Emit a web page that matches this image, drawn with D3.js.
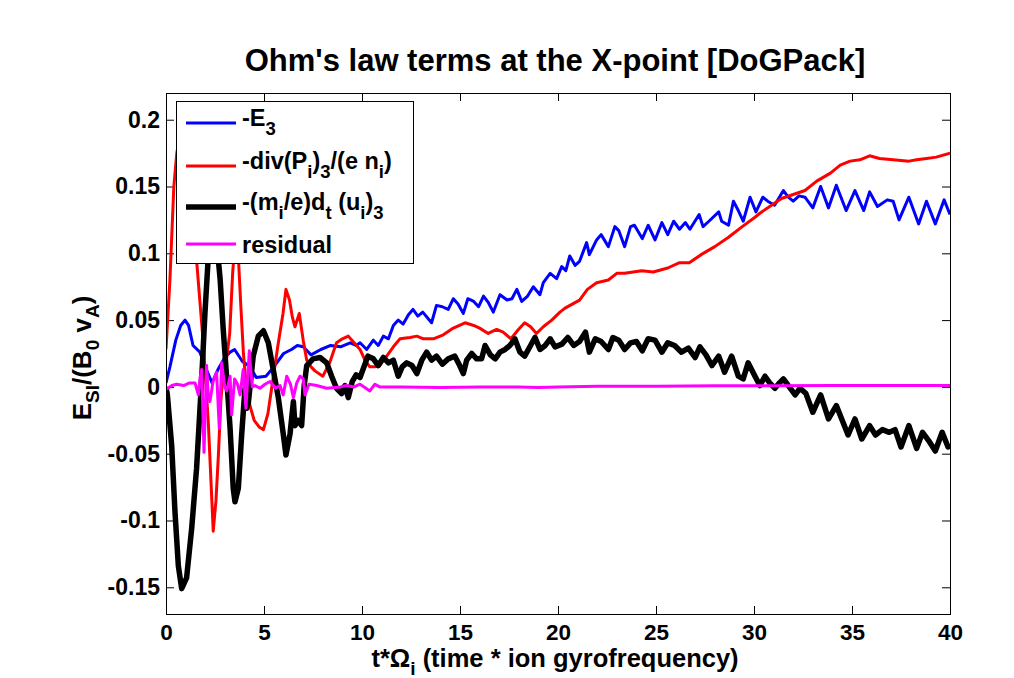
<!DOCTYPE html>
<html lang="en">

<head>
    <meta charset="UTF-8">
    <title>Ohm's law terms at the X-point</title>
    <script src="https://cdn.jsdelivr.net/npm/d3@7"></script>

    <style>
        body {
            margin: 0;
            background: #fff;
        }

        text {
            font-family: 'Liberation Sans', Arial, Helvetica, sans-serif;
            font-weight: bold;
            fill: #000;
        }

        .tick text {
            font-size: 23px;
        }

        .xaxis .tick text {
            font-size: 22.5px;
        }

        .tick line {
            stroke: #000;
        }
    </style>
</head>

<body>
    <script>

        // -E3 (blue)
        var tE3 = [0, 0.2, 0.5, 0.75, 0.97, 1.15, 1.38, 1.73, 2.0, 2.35, 2.65, 3.0, 3.27, 3.5, 3.9, 4.3, 4.6, 5.1, 5.5, 6.0,
            6.4, 6.7, 7.0, 7.4, 7.9, 8.4, 8.9, 9.4, 9.7, 9.9, 10.24, 10.58, 10.83, 11.09, 11.35, 11.6, 11.85, 12.1, 12.37, 12.6,
            12.85, 13.1, 13.55, 13.8, 14.1, 14.4, 14.66, 14.9, 15.17, 15.4, 15.7, 15.95, 16.2, 16.45, 16.7, 17.04, 17.4, 17.65, 17.9, 18.15,
            18.45, 18.74, 19.08, 19.25, 19.6, 19.93, 20.19, 20.4, 20.6, 20.87, 21.1, 21.46, 21.6, 21.97, 22.2, 22.57, 22.9, 23.1, 23.4, 23.7,
            23.9, 24.3, 24.6, 24.95, 25.3, 25.6, 25.9, 26.2, 26.5, 26.73, 27.2, 27.4, 27.7, 28.2, 28.35, 28.7, 28.95, 29.2, 29.45, 29.8,
            30.1, 30.45, 30.7, 31.05, 31.5, 31.75, 32.0, 32.3, 32.6, 33.0, 33.4, 33.8, 34.2, 34.7, 35.15, 35.6, 35.9, 36.3, 36.8, 37.1,
            37.4, 37.9, 38.4, 38.8, 39.25, 39.7, 40];
        var vE3 = [0.003, 0.015, 0.035, 0.046, 0.050, 0.046, 0.031, 0.026, 0.015, 0.003, 0.013, 0.022, 0.026, 0.028, 0.019, 0.015, 0.007, 0.008, 0.015, 0.025,
            0.028, 0.031, 0.030, 0.024, 0.028, 0.031, 0.030, 0.033, 0.031, 0.033, 0.028, 0.035, 0.031, 0.038, 0.036, 0.046, 0.050, 0.047, 0.054, 0.058,
            0.053, 0.056, 0.048, 0.061, 0.060, 0.058, 0.066, 0.062, 0.055, 0.066, 0.064, 0.060, 0.068, 0.063, 0.056, 0.069, 0.065, 0.066, 0.073, 0.064,
            0.068, 0.075, 0.069, 0.078, 0.085, 0.081, 0.090, 0.087, 0.098, 0.091, 0.094, 0.108, 0.099, 0.110, 0.114, 0.105, 0.120, 0.117, 0.105, 0.120,
            0.121, 0.111, 0.121, 0.110, 0.123, 0.114, 0.124, 0.118, 0.123, 0.118, 0.129, 0.120, 0.124, 0.131, 0.124, 0.121, 0.139, 0.132, 0.124, 0.142,
            0.131, 0.142, 0.139, 0.136, 0.147, 0.142, 0.139, 0.143, 0.142, 0.134, 0.150, 0.134, 0.151, 0.132, 0.147, 0.132, 0.146, 0.135, 0.140, 0.139,
            0.125, 0.142, 0.122, 0.139, 0.122, 0.140, 0.129];

        // -div(Pi)3/(e ni) (red)
        var tDivP = [0, 0.2, 0.4, 0.55, 0.8, 1.1, 1.35, 1.57, 1.9, 2.16, 2.41, 2.55, 2.67, 2.8, 2.95, 3.1, 3.25, 3.4, 3.55, 3.7,
            3.82, 3.95, 4.1, 4.3, 4.5, 4.75, 4.97, 5.2, 5.45, 5.7, 5.97, 6.12, 6.3, 6.45, 6.58, 6.8, 7.0, 7.18, 7.4, 7.6,
            8.0, 8.35, 8.7, 9.0, 9.3, 9.6, 9.9, 10.15, 10.4, 10.66, 10.9, 11.26, 11.6, 11.94, 12.45, 12.8, 13.13, 13.64, 14.15, 14.66,
            15.26, 15.7, 16.0, 16.44, 16.87, 17.2, 17.6, 17.98, 18.3, 18.6, 18.9, 19.25, 19.68, 20.1, 20.36, 21.1, 21.5, 21.97, 22.57, 23.0,
            23.4, 24.27, 24.86, 25.6, 26.2, 26.7, 27.3, 28.0, 28.7, 29.4, 30.05, 30.3, 30.8, 31.4, 32.0, 32.6, 33.2, 33.9, 34.4, 34.9,
            35.4, 35.9, 36.4, 37.1, 37.9, 38.3, 38.8, 39.3, 40];
        var vDivP = [0.028, 0.080, 0.150, 0.175, 0.195, 0.185, 0.140, 0.093, 0.033, -0.027, -0.108, -0.085, -0.052, -0.010, 0.015, 0.022, 0.040, 0.085, 0.115, 0.095,
            0.060, 0.025, 0.000, -0.015, -0.025, -0.030, -0.032, -0.020, 0.005, 0.030, 0.055, 0.073, 0.065, 0.052, 0.045, 0.055, 0.035, 0.020, 0.015, 0.012,
            0.008, 0.018, 0.033, 0.036, 0.038, 0.033, 0.028, 0.020, 0.015, 0.015, 0.016, 0.023, 0.030, 0.036, 0.037, 0.038, 0.036, 0.036, 0.039, 0.044,
            0.048, 0.046, 0.044, 0.040, 0.043, 0.041, 0.036, 0.043, 0.048, 0.045, 0.040, 0.045, 0.050, 0.056, 0.059, 0.065, 0.073, 0.078, 0.080, 0.085,
            0.085, 0.087, 0.086, 0.089, 0.093, 0.093, 0.099, 0.105, 0.112, 0.120, 0.127, 0.130, 0.135, 0.141, 0.144, 0.147, 0.154, 0.160, 0.166, 0.169,
            0.170, 0.173, 0.171, 0.170, 0.169, 0.170, 0.171, 0.172, 0.175];

        // -(mi/e)dt(ui)3 (black)
        var tInert = [0, 0.07, 0.29, 0.46, 0.63, 0.8, 1.05, 1.31, 1.56, 1.82, 1.99, 2.16, 2.45, 2.76, 2.92, 3.1, 3.27, 3.43, 3.52, 3.69,
            3.86, 4.03, 4.12, 4.2, 4.45, 4.71, 4.97, 5.22, 5.47, 5.73, 5.98, 6.12, 6.33, 6.5, 6.58, 6.75, 6.92, 7.05, 7.18, 7.5,
            7.86, 8.2, 8.45, 8.7, 8.96, 9.13, 9.3, 9.5, 9.7, 9.9, 10.3, 10.58, 10.83, 11.09, 11.35, 11.6, 11.85, 12.05, 12.28, 12.55,
            12.8, 13.05, 13.3, 13.55, 13.8, 14.1, 14.4, 14.74, 14.95, 15.17, 15.34, 15.6, 15.85, 16.1, 16.28, 16.55, 16.8, 17.04, 17.3, 17.55,
            17.8, 18.06, 18.3, 18.6, 18.83, 19.08, 19.35, 19.6, 19.85, 20.2, 20.5, 20.8, 21.1, 21.4, 21.6, 21.9, 22.2, 22.57, 22.8, 23.1,
            23.4, 23.7, 24.0, 24.3, 24.6, 24.95, 25.3, 25.6, 25.95, 26.3, 26.65, 27.0, 27.24, 27.55, 27.85, 28.2, 28.5, 28.86, 29.2, 29.45,
            29.7, 30.05, 30.3, 30.56, 30.8, 31.07, 31.3, 31.5, 31.8, 32.1, 32.35, 32.65, 33.0, 33.4, 33.8, 34.2, 34.5, 34.8, 35.15, 35.5,
            35.9, 36.2, 36.55, 36.9, 37.2, 37.5, 37.9, 38.3, 38.6, 38.9, 39.25, 39.6, 39.9, 40];
        var vInert = [0.000, -0.006, -0.044, -0.094, -0.134, -0.151, -0.143, -0.106, -0.061, 0.006, 0.056, 0.098, 0.130, 0.081, 0.043, 0.006, -0.031, -0.076, -0.086, -0.076,
            -0.036, -0.001, -0.016, -0.012, 0.023, 0.038, 0.042, 0.033, 0.013, -0.008, -0.035, -0.051, -0.035, -0.011, -0.029, -0.025, -0.029, 0.001, 0.016, 0.021,
            0.022, 0.018, 0.008, -0.001, -0.005, 0.001, -0.008, 0.004, 0.009, 0.007, 0.023, 0.021, 0.016, 0.022, 0.018, 0.020, 0.008, 0.015, 0.018, 0.016,
            0.010, 0.020, 0.026, 0.020, 0.023, 0.017, 0.021, 0.023, 0.017, 0.010, 0.020, 0.025, 0.021, 0.021, 0.031, 0.024, 0.021, 0.026, 0.028, 0.031,
            0.036, 0.026, 0.023, 0.031, 0.037, 0.028, 0.031, 0.036, 0.030, 0.032, 0.037, 0.031, 0.034, 0.041, 0.026, 0.036, 0.034, 0.028, 0.037, 0.035,
            0.028, 0.033, 0.034, 0.027, 0.036, 0.035, 0.026, 0.033, 0.031, 0.026, 0.029, 0.022, 0.030, 0.024, 0.016, 0.023, 0.011, 0.023, 0.008, 0.006,
            0.018, 0.008, 0.001, 0.008, 0.003, -0.001, 0.003, 0.006, 0.000, -0.006, -0.001, -0.005, -0.019, -0.006, -0.024, -0.014, -0.025, -0.036, -0.024, -0.039,
            -0.029, -0.036, -0.032, -0.034, -0.032, -0.045, -0.029, -0.046, -0.034, -0.040, -0.048, -0.034, -0.045, -0.043];

        // residual (magenta)
        var tResid = [0, 0.3, 0.54, 0.9, 1.2, 1.48, 1.65, 1.75, 1.82, 1.94, 2.07, 2.15, 2.24, 2.4, 2.58, 2.72, 2.84, 3.0, 3.1, 3.27,
            3.35, 3.5, 3.65, 3.78, 3.94, 4.08, 4.25, 4.4, 4.54, 4.8, 5.05, 5.3, 5.6, 5.82, 5.98, 6.16, 6.35, 6.5, 6.67, 6.84,
            7.0, 7.09, 7.3, 7.69, 8.2, 8.9, 9.2, 9.6, 9.9, 10.2, 10.4, 10.66, 10.9, 12, 14, 16, 18, 19, 20, 22,
            25, 28, 31, 34, 37, 40];
        var vResid = [-0.002, 0.001, 0.002, 0.001, 0.003, 0.003, -0.006, 0.008, 0.013, -0.049, 0.016, -0.005, -0.011, 0.004, 0.011, -0.031, 0.018, 0.000, -0.003, 0.008,
            -0.021, 0.006, 0.002, -0.006, 0.013, -0.016, 0.027, 0.000, 0.001, -0.001, 0.002, 0.004, -0.001, 0.001, -0.006, 0.008, 0.002, -0.008, 0.003, 0.008,
            0.006, -0.006, 0.002, 0.001, -0.001, 0.000, 0.001, 0.000, 0.002, -0.001, -0.003, 0.002, 0.000, 0.000, -0.0005, 0.000, 0.000, -0.0005, 0.000, 0.0005,
            0.0005, 0.0008, 0.0008, 0.001, 0.001, 0.001];

        var xTicks = [0, 5, 10, 15, 20, 25, 30, 35, 40];
        var yTicks = [-0.15, -0.1, -0.05, 0, 0.05, 0.1, 0.15, 0.2];
        var yTickLabels = ["-0.15", "-0.1", "-0.05", "0", "0.05", "0.1", "0.15", "0.2"];

        var width = 1014,
            height = 678;
        var plotLeft = 166, plotRight = 950, plotTop = 93, plotBottom = 614;

        var svg = d3.select('body').append('svg')
            .attr('width', width)
            .attr('height', height);

        var x = d3.scaleLinear().domain([0, 40]).range([plotLeft, plotRight]);
        var y = d3.scaleLinear().domain([-0.17, 0.22]).range([plotBottom, plotTop]);

        // rich text helper: parts are [string, isSub]
        function rich(sel, parts, size, subSize, shift) {
            parts.forEach(function (p, i) {
                var prevSub = i > 0 && parts[i - 1][1];
                var dy = 0;
                if (p[1] && !prevSub) dy = shift;
                if (!p[1] && prevSub) dy = -shift;
                sel.append('tspan')
                    .attr('dy', dy)
                    .style('font-size', (p[1] ? subSize : size) + 'px')
                    .text(p[0]);
            });
        }

        svg.append('clipPath').attr('id', 'plotclip')
            .append('rect')
            .attr('x', plotLeft).attr('y', plotTop)
            .attr('width', plotRight - plotLeft).attr('height', plotBottom - plotTop);

        // axes (ticks pointing in, box all round)
        svg.append('g')
            .attr('class', 'xaxis')
            .attr('transform', 'translate(0,' + plotBottom + ')')
            .call(d3.axisBottom(x).tickValues(xTicks).tickSize(-8).tickPadding(10).tickFormat(d3.format('d')))
            .call(g => g.select('.domain').remove());
        svg.append('g')
            .attr('transform', 'translate(0,' + plotTop + ')')
            .call(d3.axisTop(x).tickValues(xTicks).tickSize(-8).tickFormat(''))
            .call(g => g.select('.domain').remove());
        svg.append('g')
            .attr('transform', 'translate(' + plotLeft + ',0)')
            .call(d3.axisLeft(y).tickValues(yTicks).tickSize(-8).tickPadding(6)
                .tickFormat((d, i) => yTickLabels[i]))
            .call(g => g.select('.domain').remove());
        svg.append('g')
            .attr('transform', 'translate(' + plotRight + ',0)')
            .call(d3.axisRight(y).tickValues(yTicks).tickSize(-8).tickFormat(''))
            .call(g => g.select('.domain').remove());

        svg.selectAll('.tick text').attr('fill', '#000');

        var series = [
            { t: tE3, v: vE3, color: '#0000ff', w: 3 },
            { t: tDivP, v: vDivP, color: '#ff0000', w: 3 },
            { t: tInert, v: vInert, color: '#000000', w: 5.5 },
            { t: tResid, v: vResid, color: '#ff00ff', w: 3 }
        ];

        var line = d3.line()
            .x(d => x(d[0]))
            .y(d => y(d[1]));

        var plot = svg.append('g').attr('clip-path', 'url(#plotclip)');
        series.forEach(function (s) {
            plot.append('path')
                .datum(d3.zip(s.t, s.v))
                .attr('d', line)
                .attr('fill', 'none')
                .attr('stroke', s.color)
                .attr('stroke-width', s.w)
                .attr('stroke-linejoin', 'round');
        });

        svg.append('rect')
            .attr('x', plotLeft + 0.5).attr('y', plotTop + 0.5)
            .attr('width', plotRight - plotLeft).attr('height', plotBottom - plotTop)
            .attr('fill', 'none')
            .attr('stroke', '#000')
            .attr('stroke-width', 1);

        // legend
        var lg = svg.append('g');
        lg.append('rect')
            .attr('x', 176.5).attr('y', 101.5)
            .attr('width', 237).attr('height', 162)
            .attr('fill', '#fff')
            .attr('stroke', '#000');

        var legendItems = [
            { parts: [['-E', 0], ['3', 1]], s: series[0] },
            { parts: [['-div(P', 0], ['i', 1], [')', 0], ['3', 1], ['/(e n', 0], ['i', 1], [')', 0]], s: series[1] },
            { parts: [['-(m', 0], ['i', 1], ['/e)d', 0], ['t', 1], [' (u', 0], ['i', 1], [')', 0], ['3', 1]], s: series[2] },
            { parts: [['residual', 0]], s: series[3] }
        ];
        var legendY = [123, 166, 207, 244];
        var legendBase = [126, 169, 210, 253];
        legendItems.forEach(function (it, i) {
            lg.append('line')
                .attr('x1', 186).attr('x2', 236)
                .attr('y1', legendY[i]).attr('y2', legendY[i])
                .attr('stroke', it.s.color)
                .attr('stroke-width', it.s.w);
            var tx = lg.append('text')
                .attr('x', 242).attr('y', legendBase[i]);
            rich(tx, it.parts, 23.5, 18.5, 9);
        });

        // title
        svg.append('text')
            .attr('x', 555).attr('y', 71)
            .attr('text-anchor', 'middle')
            .style('font-size', '31px')
            .text("Ohm's law terms at the X-point [DoGPack]");

        // x label
        var xl = svg.append('text')
            .attr('x', 555).attr('y', 667)
            .attr('text-anchor', 'middle');
        rich(xl, [['t*\u03A9', 0], ['i', 1], [' (time * ion gyrofrequency)', 0]], 25.5, 19, 8);

        // y label
        var yl = svg.append('text')
            .attr('transform', 'translate(91,358) rotate(-90)')
            .attr('text-anchor', 'middle');
        rich(yl, [['E', 0], ['SI', 1], ['/(B', 0], ['0', 1], [' v', 0], ['A', 1], [')', 0]], 26, 19, 8);

    </script>
</body>

</html>
